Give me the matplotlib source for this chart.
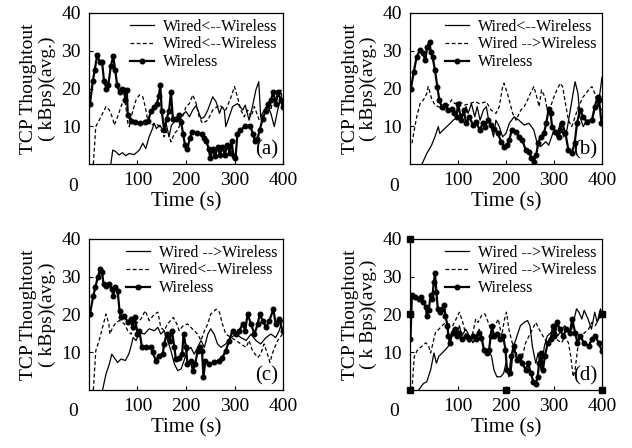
import matplotlib
matplotlib.use('Agg')
import matplotlib.pyplot as plt

plt.rcParams['font.family'] = ['Liberation Serif', 'DejaVu Serif']

# ---- panel (a) ----
a_wl_t = [2, 8, 12, 17, 22, 27, 31, 36, 40, 45, 50, 54, 58, 63, 68, 72, 75, 78, 80, 86, 94, 105,
          115, 122, 128, 135, 140, 144, 147, 150, 155, 160, 165, 169, 173, 180, 186, 190, 194, 198,
          203, 208, 213, 222, 232, 238, 242, 247, 250, 255, 260, 265, 270, 275, 280, 285, 290, 294,
          298, 302, 306, 312, 322, 332, 338, 342, 347, 352, 358, 364, 370, 375, 380, 385, 390, 395, 400]
a_wl_v = [16, 22, 25, 29, 27, 27, 22, 20, 21, 26, 28.5, 25, 21, 19, 20, 19.5, 17, 19.5, 13, 11.5, 11,
          10.8, 11, 11.5, 14, 15, 16, 18, 21, 14, 9, 12, 14, 19, 12, 12, 13, 11, 8, 5, 4, 7, 8.5, 8.3,
          8, 7, 6, 4, 1.5, 4, 2, 4.5, 2.5, 4.5, 2.5, 5, 3, 6, 2, 1.5, 8, 9, 10, 10.2, 8, 6, 6.5, 9, 12,
          14, 16, 17, 19, 16, 19, 17, 15]
a_solid_t = [45, 49, 55, 62, 69, 76, 83, 93, 104, 111, 117, 124, 131, 134, 139, 146, 152, 159, 165,
             170, 179, 189, 200, 207, 214, 221, 231, 238, 245, 255, 262, 269, 274, 279, 282, 289, 296,
             306, 317, 322, 330, 337, 344, 350, 354, 361, 368, 375, 382, 389, 396, 400]
a_solid_v = [0, 3.7, 3.3, 2.4, 3, 2.2, 2.8, 2.5, 3.7, 5.5, 4.1, 7.2, 9.4, 10.8, 9.4, 10.3, 9, 10.8, 7.2,
             10.3, 11.6, 12.5, 13.9, 12.5, 14.3, 15.5, 12, 12.5, 14.3, 17.8, 16.5, 13.4, 15.2, 14.3,
             9.9, 12.5, 15.2, 16, 14.3, 15.6, 11.6, 15.2, 19.6, 21.8, 12.5, 14.3, 15.6, 13.4, 9.9,
             14.3, 17.8, 15.2]
a_dash_t = [9, 14, 21, 28, 35, 42, 49, 52, 59, 66, 73, 76, 80, 83, 90, 97, 104, 111, 116, 121, 128,
            138, 145, 155, 162, 169, 176, 183, 186, 193, 200, 207, 214, 221, 227, 234, 245, 255, 269,
            282, 293, 300, 306, 313, 320, 327, 334, 341, 351, 361, 368, 375, 382, 389, 396, 400]
a_dash_v = [0, 9.9, 11.6, 13.4, 15.2, 14.3, 12.1, 10.3, 12.5, 15.2, 17.4, 15.2, 10.8, 9.9, 13.9, 17,
            18.3, 17.8, 15.2, 11.6, 10.3, 10.8, 9.9, 7.2, 9, 5.9, 8.1, 9, 9.9, 12.5, 15.2, 16, 18.3,
            16, 12.5, 10.8, 11.6, 14.3, 15.6, 14.3, 17.8, 20.5, 17.8, 14.3, 12.5, 14.3, 12.5, 15.2,
            11.6, 13.4, 16, 14.3, 18.7, 17.8, 19.6, 14.3]

# ---- panel (b) ----
b_wl_t = [2, 8, 14, 21, 27, 32, 36, 41, 43, 47, 52, 57, 61, 66, 73, 80, 87, 91, 97, 100, 107, 112,
          117, 124, 131, 138, 145, 152, 157, 162, 169, 176, 183, 190, 196, 203, 207, 212, 221, 227,
          234, 241, 248, 253, 258, 263, 267, 272, 279, 284, 289, 293, 296, 303, 310, 313, 317, 324,
          330, 337, 343, 348, 354, 361, 368, 379, 385, 391, 394, 399]
b_wl_v = [20, 24.5, 28.4, 30.2, 29.3, 27.5, 31.1, 32.4, 29.7, 28.4, 24.9, 20.5, 17, 15.2, 15.6, 14.3,
          14.7, 13.4, 12.5, 16, 11.6, 14.3, 10.8, 12.5, 10.3, 11.2, 9, 10.8, 9.9, 11.6, 10.3, 9.4,
          8.1, 5.9, 4.6, 5, 6.4, 9, 8.6, 7.2, 6.4, 3.7, 3.3, 1.5, 0.6, 2.4, 5.5, 7.2, 8.1, 10.8, 14.7,
          13.4, 9.9, 8.6, 7.2, 9, 10.8, 8.1, 3.7, 2.8, 5.5, 10.8, 14.3, 12.5, 11.2, 11.6, 15.2, 17.8,
          17, 10.8]
b_solid_t = [25, 35, 45, 52, 59, 62, 69, 80, 90, 100, 111, 117, 121, 128, 135, 140, 146, 153, 159,
             164, 169, 174, 179, 186, 193, 200, 207, 217, 227, 238, 248, 258, 265, 272, 283, 289,
             300, 306, 313, 320, 327, 334, 341, 344, 350, 354, 361, 368, 379, 385, 392, 400]
b_solid_v = [0, 2.8, 5, 7.2, 9.9, 8.1, 9, 10.3, 11.6, 12.5, 13.4, 15.2, 13.4, 16, 12.5, 15.2, 11.6,
             14.3, 15.2, 11.6, 9.9, 7.2, 11.6, 9.9, 7.2, 8.1, 10.8, 12.5, 11.6, 10.3, 10.8, 9, 5.5,
             4.6, 5.9, 5, 9, 7.2, 10.8, 7.2, 9, 14.3, 19.6, 21.8, 18.7, 12.5, 9.9, 11.6, 11.6, 14.3,
             15.2, 23]
b_dash_t = [4, 14, 21, 28, 35, 38, 45, 52, 59, 66, 73, 80, 87, 93, 104, 114, 124, 135, 145, 159, 169,
            179, 186, 193, 196, 203, 214, 221, 231, 238, 245, 251, 258, 264, 269, 274, 281, 286, 293,
            300, 306, 313, 318, 324, 330, 337, 344, 351, 361, 372, 379, 385, 392, 400]
b_dash_v = [5.5, 12.5, 16, 17, 18.7, 20.5, 17.4, 15.6, 15.2, 14.7, 14.3, 15.6, 17, 16, 16.5, 15.6,
            16, 16.5, 16, 16.5, 14.3, 13.4, 15.2, 20.5, 21.4, 18.7, 13.4, 11.6, 14.3, 15.2, 17, 18.7,
            20.5, 17.8, 15.2, 19.6, 17.8, 14.3, 15.2, 17.8, 19.6, 21.4, 20.5, 16, 11.6, 9.9, 12.5,
            15.2, 17.8, 19.6, 20.5, 18.7, 15.2, 14.3]

# ---- panel (c) ----
c_wl_t = [2, 9, 13, 18, 23, 27, 30, 35, 42, 47, 50, 54, 59, 63, 66, 73, 80, 87, 90, 95, 100, 104,
          109, 117, 128, 131, 138, 145, 152, 155, 160, 166, 171, 176, 179, 186, 192, 195, 200, 203,
          210, 214, 219, 224, 229, 233, 236, 240, 248, 258, 269, 275, 282, 289, 296, 303, 310, 317,
          322, 327, 334, 341, 348, 352, 358, 365, 372, 380, 385, 392, 399]
c_wl_v = [20.1, 25, 27.2, 29.8, 32, 31.2, 28, 27.6, 28, 26.7, 25, 27.2, 26.3, 21, 19.2, 19.7, 17.9,
          18.8, 16.6, 19.2, 14.8, 15.7, 11.3, 11.3, 11.3, 10, 7.8, 9.1, 9.5, 12.2, 14.8, 13.1, 15.7,
          11.3, 8.2, 8.6, 9.5, 14.8, 11.3, 6.9, 7.8, 5.1, 6.9, 10.4, 11.3, 10.4, 3.4, 7.8, 6.9, 7.3,
          7.8, 8.6, 10.4, 13.1, 15.7, 14.8, 15.7, 17.5, 15.7, 20.1, 17.5, 14.8, 17.5, 20.1, 18.4,
          16.6, 18.4, 21.4, 17.5, 18.8, 15.7]
c_solid_t = [28, 35, 42, 47, 54, 59, 66, 75, 82, 87, 91, 97, 104, 114, 124, 135, 142, 148, 155, 162,
             169, 176, 183, 190, 196, 203, 210, 217, 224, 231, 238, 245, 251, 258, 265, 272, 282,
             293, 303, 313, 324, 334, 344, 354, 365, 375, 385, 392, 399]
c_solid_v = [0, 4.2, 6.9, 9.5, 8.2, 7.3, 8.2, 7.8, 9.5, 11.7, 13.9, 13.1, 15.3, 14.8, 16.2, 15.7,
             16.6, 14.8, 15.7, 13.1, 10.4, 6.9, 5.1, 5.6, 7.8, 10.4, 11.3, 9.5, 11.3, 13.1, 11.3,
             14.8, 16.2, 14.8, 12.2, 11.3, 12.2, 13.9, 14.8, 13.9, 13.1, 14.8, 13.1, 12.2, 13.9,
             14.8, 13.9, 15.7, 18.4]
c_dash_t = [9, 14, 21, 28, 35, 41, 43, 49, 56, 63, 73, 80, 87, 97, 107, 116, 124, 135, 142, 148, 155,
            162, 174, 181, 186, 194, 203, 210, 217, 224, 231, 238, 245, 251, 262, 269, 275, 282, 293,
            303, 313, 324, 330, 337, 348, 354, 361, 368, 373, 380, 389, 399]
c_dash_v = [0, 10.4, 13.1, 16.6, 20.1, 17.5, 14.8, 16.6, 17.9, 18.4, 17.5, 15.7, 14.8, 17.5, 18.8,
            21, 18.4, 20.1, 20.6, 16.6, 15.7, 17.5, 19.2, 17.5, 15.7, 17, 17.5, 16.6, 15.7, 14.8,
            13.1, 15.7, 17.5, 20.1, 21.4, 20.6, 17.5, 14.8, 13.9, 13.1, 12.2, 11.3, 13.1, 10.4, 8.6,
            9.5, 12.2, 9.5, 7.3, 10.4, 13.1, 14.8]

# ---- panel (d) ----
d_wl_t = [1, 4, 11, 18, 23, 28, 33, 35, 39, 43, 46, 50, 52, 55, 58, 62, 67, 71, 74, 78, 80, 83, 89,
          94, 99, 103, 108, 117, 124, 131, 138, 144, 149, 154, 160, 165, 168, 171, 175, 181, 188,
          194, 199, 202, 208, 211, 216, 223, 229, 234, 241, 246, 252, 257, 262, 266, 269, 273, 277,
          281, 287, 293, 298, 301, 307, 312, 319, 326, 333, 338, 344, 349, 355, 362, 372, 379, 386,
          393, 400]
d_wl_v = [13.4, 25.1, 24.7, 24.2, 24.7, 23.3, 22, 19.7, 21.1, 25.1, 24.2, 28.7, 31, 26, 21.5, 20.6,
          21.5, 22.4, 19.7, 17, 14.3, 12.5, 15.2, 16.1, 14.3, 15.2, 13.4, 14.3, 13.4, 14.3, 13.4,
          15.2, 13.9, 10.7, 9.8, 10.7, 14.3, 17, 14.3, 14.8, 13.4, 14.3, 10.7, 5.3, 4.4, 8.9, 11.6,
          8, 8.9, 7.1, 5.3, 7.1, 4.4, 2.2, 1.7, 3.5, 7.1, 9.8, 5.3, 8.9, 12.5, 13.4, 17, 14.3,
          17.9, 16.1, 14.3, 16.1, 15.2, 18.8, 15.2, 12.5, 14.3, 12.5, 11.6, 13.4, 14.3, 12.5, 10.3]
d_solid_t = [18, 28, 35, 43, 50, 55, 60, 67, 74, 80, 85, 90, 96, 103, 108, 116, 124, 131, 138, 144,
             151, 156, 163, 170, 175, 181, 189, 195, 200, 206, 211, 216, 223, 230, 238, 245, 250,
             255, 262, 267, 273, 280, 286, 294, 301, 308, 316, 323, 330, 337, 342, 347, 352, 358,
             363, 371, 378, 385, 390, 397, 400]
d_solid_v = [0, 1.7, 2.2, 5.3, 9.8, 7.1, 8.9, 9.8, 10.7, 11.6, 14.3, 16.1, 14.3, 17, 14.3, 16.1,
             14.3, 12.5, 14.3, 16.1, 12.5, 9.8, 10.7, 8.9, 5.3, 3.5, 3.5, 4.4, 7.1, 3.5, 5.3, 11.6,
             14.3, 17, 17.9, 18.4, 17, 11.6, 7.1, 9.8, 5.3, 11.6, 14.3, 15.2, 16.1, 14.3, 16.1, 17,
             15.2, 16.1, 18.8, 21.5, 20.6, 18.8, 21.1, 18.8, 16.1, 20.6, 17.9, 21.5, 19.7]
d_dash_t = [4, 9, 16, 25, 33, 39, 43, 48, 53, 60, 67, 74, 82, 89, 96, 103, 110, 117, 124, 131, 137,
            142, 149, 156, 163, 170, 177, 184, 191, 197, 201, 206, 213, 220, 227, 234, 241, 248, 255,
            262, 269, 277, 286, 294, 305, 316, 323, 330, 335, 340, 344, 349, 357, 364, 372, 379, 386,
            393, 400]
d_dash_v = [0, 8.9, 10.7, 11.6, 12.5, 11.6, 9.8, 12.5, 15.2, 16.1, 17, 17.9, 17.4, 17, 18.8, 20.6,
            17.9, 14.3, 12.5, 15.2, 18.8, 17.9, 19.7, 20.2, 17.9, 15.2, 17, 18.8, 14.3, 18.8, 20.6,
            16.1, 12.5, 10.7, 7.1, 8.9, 12.5, 14.3, 16.1, 17.9, 16.1, 14.3, 12.5, 14.3, 13.4, 12.5,
            14.3, 12.5, 8.9, 3.5, 5.3, 10.7, 14.3, 15.2, 16.1, 17.9, 17, 18.8, 19.7]
# odd square marks in panel (d)
d_sq_t = [0, 0, 0, 200, 400, 400]
d_sq_v = [40, 20, 0, 0, 0, 20]

panels = [
    ('(a)', a_wl_t, a_wl_v, a_solid_t, a_solid_v, a_dash_t, a_dash_v,
     'Wired<--Wireless', 'Wired<--Wireless', '( kBps)(avg.)'),
    ('(b)', b_wl_t, b_wl_v, b_solid_t, b_solid_v, b_dash_t, b_dash_v,
     'Wired<--Wireless', 'Wired -->Wireless', '( kBps)(avg.)'),
    ('(c)', c_wl_t, c_wl_v, c_solid_t, c_solid_v, c_dash_t, c_dash_v,
     'Wired -->Wireless', 'Wired<--Wireless', '( kBps)(avg.)'),
    ('(d)', d_wl_t, d_wl_v, d_solid_t, d_solid_v, d_dash_t, d_dash_v,
     'Wired -->Wireless', 'Wired -->Wireless', '( k Bps)(avg.)'),
]

boxes = [[0.1408, 0.6339, 0.3070, 0.3371],
         [0.6487, 0.6339, 0.3038, 0.3371],
         [0.1408, 0.1295, 0.3070, 0.3371],
         [0.6487, 0.1295, 0.3038, 0.3371]]

fig = plt.figure(figsize=(6.32, 4.48), dpi=100)

for box, p in zip(boxes, panels):
    tag, wt, wv, st, sv, dt, dv, slab, dlab, ylab2 = p
    ax = fig.add_axes(box)
    ax.plot(st, sv, color='black', lw=0.9, label=slab)
    ax.plot(dt, dv, color='black', lw=0.9, dashes=(3, 2), label=dlab)
    ax.plot(wt, wv, color='black', lw=1.6, marker='o', markersize=3.3, label='Wireless')
    if tag == '(d)':
        ax.plot(d_sq_t, d_sq_v, ls='none', marker='s', markersize=4.5, color='black', clip_on=False)

    ax.set_xlim(0, 400)
    ax.set_ylim(0, 40)
    ax.set_xticks([100, 200, 300, 400])
    ax.set_yticks([10, 20, 30, 40])
    ax.tick_params(direction='in', length=3, width=0.8, labelsize=14, pad=6)
    for s in ax.spines.values():
        s.set_linewidth(0.9)

    # the lone 0 sits off the corner
    ax.annotate('0', xy=(0, 0), xycoords='axes fraction', xytext=(-16, -22),
                textcoords='offset pixels', ha='center', va='center', fontsize=14)

    ax.set_xlabel('Time (s)', fontsize=15, labelpad=2)
    ax.set_ylabel('TCP Thoughtout\n' + ylab2, fontsize=14, linespacing=1.1)
    ax.yaxis.set_label_coords(-0.17, 0.5)

    ax.text(0.975, 0.03, tag, transform=ax.transAxes, ha='right', va='bottom', fontsize=15)
    ax.legend(loc='upper right', frameon=False, fontsize=11.5, handlelength=1.5,
              handletextpad=0.55, labelspacing=0.12, borderaxespad=0.1, borderpad=0.25)

plt.savefig('out.png', dpi=100)
